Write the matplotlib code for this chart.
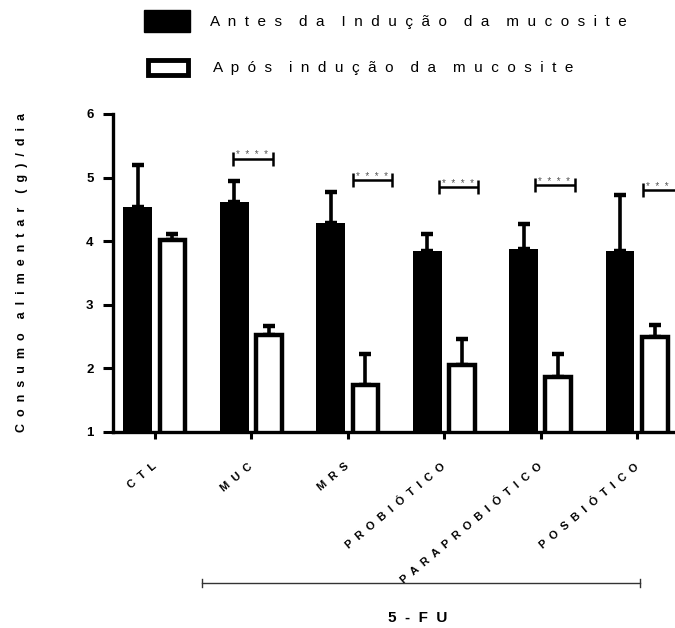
import numpy as np
import matplotlib
matplotlib.use("Agg")
import matplotlib.pyplot as plt
from matplotlib.patches import Rectangle
from matplotlib.lines import Line2D

plt.rcParams['font.family'] = ['Liberation Sans', 'DejaVu Sans']

# mean food intake (g/day) per group, before and after mucositis induction
groups = ["CTL", "MUC", "MRS", "PROBIÓTICO", "PARAPROBIÓTICO", "POSBIÓTICO"]
antes = [4.54, 4.62, 4.28, 3.85, 3.87, 3.85]
antes_err = [0.66, 0.33, 0.50, 0.27, 0.40, 0.88]
apos = [4.02, 2.52, 1.74, 2.06, 1.86, 2.49]
apos_err = [0.09, 0.15, 0.49, 0.40, 0.36, 0.20]
sig_labels = ["", "****", "****", "****", "****", "***"]

legend_labels = ["Antes da Indução da mucosite", "Após indução da mucosite"]
y_label = "Consumo alimentar (g)/dia"
treat_label = "5-FU"


def spaced(text, n=2):
    """Spread the letters of a label apart, Prism style."""
    words = [(" " * n).join(w) for w in text.split(" ")]
    return (" " * (n + 2)).join(words)


W, H = 675, 628
fig = plt.figure(figsize=(W / 100, H / 100), dpi=100)
ax = fig.add_axes([113 / W, 1 - 432 / H, 1 - 113 / W, (432 - 114) / H])

x = np.arange(len(groups))
bw = 0.30
off = 0.18

ax.bar(x - off, antes, bw, color="black", edgecolor="black", linewidth=0, zorder=2)
ax.bar(x + off, apos, bw - 0.035, color="white", edgecolor="black", linewidth=3.2, zorder=2)

err_kw = dict(fmt="none", ecolor="black", elinewidth=2.6, capsize=4.5, capthick=3.2, zorder=1)
ax.errorbar(x - off, antes, yerr=[np.zeros(len(x)), antes_err], **err_kw)
ax.errorbar(x + off, apos, yerr=[np.zeros(len(x)), apos_err], **err_kw)

# significance brackets (start offset from group centre, height)
sig_start = [0, -0.19, 0.05, -0.06, -0.06, 0.06]
sig_y = [0, 5.30, 4.96, 4.85, 4.89, 4.80]
sig_w = 0.41
for i, lab in enumerate(sig_labels):
    if not lab:
        continue
    x0 = i + sig_start[i]
    x1 = x0 + sig_w
    y = sig_y[i]
    ax.plot([x0, x1], [y, y], color="black", lw=1.8, clip_on=False, solid_capstyle="butt")
    for xe in (x0, x1):
        ax.plot([xe, xe], [y - 0.11, y + 0.11], color="black", lw=1.8, clip_on=False,
                solid_capstyle="butt")
    ax.text(x0 + 0.03, y - 0.03, spaced(lab, 2), ha="left", va="bottom",
            fontsize=7, color="#555555", clip_on=False)

ax.set_xlim(-0.435, 5.39)
ax.set_ylim(1, 6)
ax.set_yticks([1, 2, 3, 4, 5, 6])
ax.set_yticklabels([str(v) for v in range(1, 7)], fontsize=9.5, fontweight="bold")
ax.set_xticks(x)
ax.set_xticklabels([spaced(g, 2) for g in groups], rotation=40, ha="right",
                   va="center", rotation_mode="anchor", fontsize=8, fontweight="bold")

for side in ("top", "right"):
    ax.spines[side].set_visible(False)
for side in ("left", "bottom"):
    ax.spines[side].set_linewidth(2.4)
ax.tick_params(axis="y", length=7, width=2.2, pad=7)
ax.tick_params(axis="x", length=5, width=2.2, pad=19)

fig.text(22 / W, 1 - 273 / H, spaced(y_label, 2), rotation=90, ha="center", va="center",
         fontsize=9, fontweight="bold")

# 5-FU treatment span under the x labels
fig.add_artist(Line2D([202 / W, 640 / W], [1 - 583 / H] * 2, color="#333333", lw=1.0,
                      transform=fig.transFigure))
for xe in (202, 640):
    fig.add_artist(Line2D([xe / W] * 2, [1 - 579 / H, 1 - 587 / H], color="#333333", lw=1.0,
                          transform=fig.transFigure))
fig.text(418 / W, 1 - 618 / H, spaced(treat_label, 2), ha="center", va="center",
         fontsize=11, fontweight="bold")

# legend
fig.add_artist(Rectangle((144 / W, 1 - 32 / H), 46 / W, 22 / H, facecolor="black",
                         edgecolor="black", transform=fig.transFigure))
fig.add_artist(Rectangle((148 / W, 1 - 75 / H), 40 / W, 15 / H, facecolor="white",
                         edgecolor="black", linewidth=3.5, transform=fig.transFigure))
fig.text(210 / W, 1 - 22 / H, spaced(legend_labels[0], 2), ha="left", va="center", fontsize=11)
fig.text(213 / W, 1 - 68 / H, spaced(legend_labels[1], 2), ha="left", va="center", fontsize=11)

fig.savefig("out.png", dpi=100)
